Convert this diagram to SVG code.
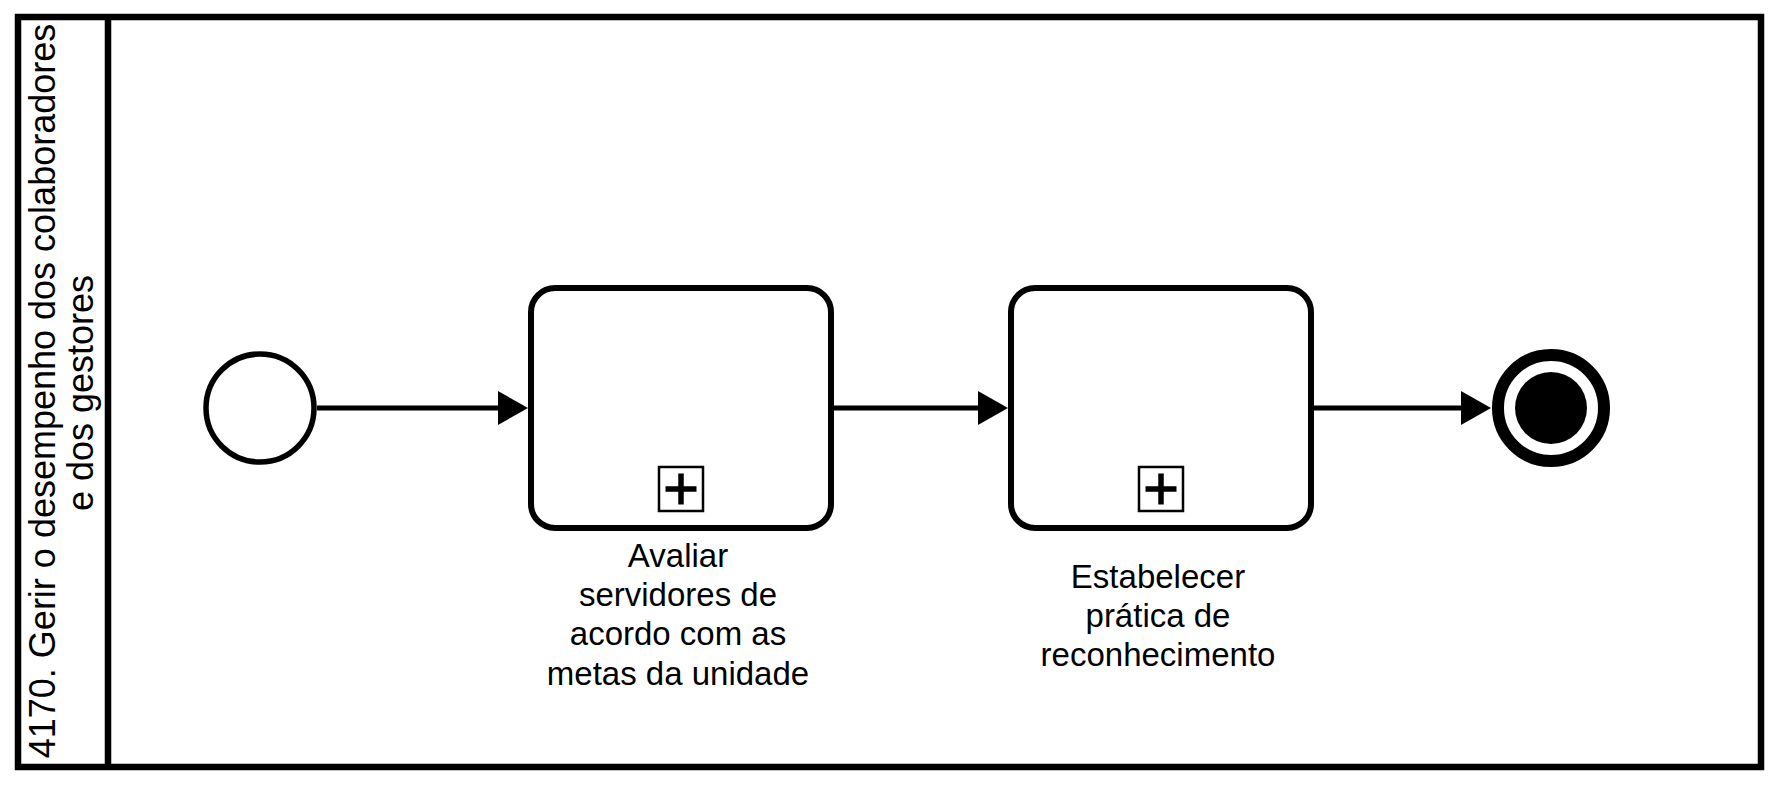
<svg xmlns="http://www.w3.org/2000/svg" width="1779" height="786" viewBox="0 0 1779 786">
<style>
.pool{fill:#ffffff;stroke:#000;stroke-width:6.5}
.task{fill:#ffffff;stroke:#000;stroke-width:6}
.mk{fill:#ffffff;stroke:#000;stroke-width:2.5}
.plus{stroke:#000;stroke-width:5.5;fill:none}
.flow{stroke:#000;stroke-width:5;fill:none}
.lbl{font-family:"Liberation Sans",Arial,sans-serif;font-size:33px;fill:#000;text-anchor:middle}
.lane{font-family:"Liberation Sans",Arial,sans-serif;font-size:36px;fill:#000;text-anchor:middle}
</style>
<defs>
<marker id="arrow" viewBox="0 0 30 34" refX="15" refY="17" markerWidth="30" markerHeight="34" markerUnits="userSpaceOnUse" orient="auto">
<path d="M0,0 L30,17 L0,34 Z" fill="#000"/>
</marker>
</defs>
<rect width="1779" height="786" fill="#ffffff"/>
<g id="pool">
<rect class="pool" x="18" y="17" width="1743" height="750"/>
<line x1="108" y1="17" x2="108" y2="767" stroke="#000" stroke-width="6.5"/>
<text class="lane" transform="translate(54.5,391) rotate(-90)">4170. Gerir o desempenho dos colaboradores</text>
<text class="lane" transform="translate(93,393) rotate(-90)">e dos gestores</text>
</g>
<g id="connectors">
<line class="flow" x1="317" y1="408" x2="513" y2="408" marker-end="url(#arrow)"/>
<line class="flow" x1="833" y1="408" x2="993" y2="408" marker-end="url(#arrow)"/>
<line class="flow" x1="1314" y1="408" x2="1476" y2="408" marker-end="url(#arrow)"/>
</g>
<g id="start">
<circle cx="260" cy="408" r="54" fill="#ffffff" stroke="#000" stroke-width="5.5"/>
</g>
<g id="task1">
<rect class="task" x="531" y="288" width="300" height="240" rx="24" ry="24"/>
<rect class="mk" x="659" y="467" width="44" height="44"/>
<path class="plus" d="M665.5,489 H696.5 M681,473.5 V504.5"/>
<text class="lbl" x="678"><tspan x="678" y="567">Avaliar</tspan><tspan x="678" y="606">servidores de</tspan><tspan x="678" y="645">acordo com as</tspan><tspan x="678" y="685">metas da unidade</tspan></text>
</g>
<g id="task2">
<rect class="task" x="1011" y="288" width="300" height="240" rx="24" ry="24"/>
<rect class="mk" x="1139" y="467" width="44" height="44"/>
<path class="plus" d="M1145.5,489 H1176.5 M1161,473.5 V504.5"/>
<text class="lbl" x="1158"><tspan x="1158" y="588">Estabelecer</tspan><tspan x="1158" y="627">prática de</tspan><tspan x="1158" y="666">reconhecimento</tspan></text>
</g>
<g id="end">
<circle cx="1551" cy="408" r="53" fill="#ffffff" stroke="#000" stroke-width="12"/>
<circle cx="1551" cy="408" r="36" fill="#000"/>
</g>
</svg>
